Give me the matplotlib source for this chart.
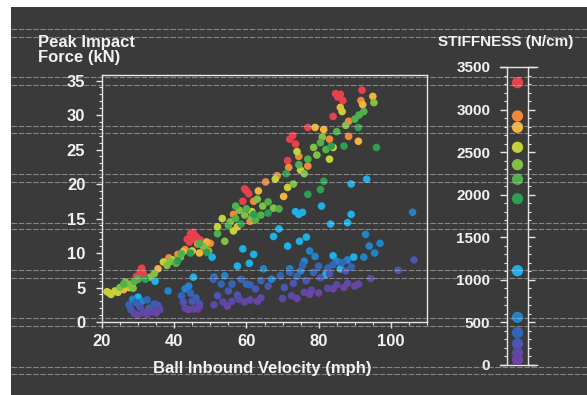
import numpy as np
import matplotlib
import matplotlib.pyplot as plt
from matplotlib.patches import Rectangle
from matplotlib.lines import Line2D
from matplotlib.ticker import MultipleLocator

plt.rcParams['font.family'] = ['Liberation Sans', 'DejaVu Sans']
plt.rcParams['font.weight'] = 'bold'

# stiffness groups (N/cm) and their colours
stiffness = [3316, 2925, 2792, 2557, 2353, 2181, 1953, 1108, 560, 380, 250, 140, 60]
colors = ['#e8414e', '#f0883a', '#f4b43a', '#c6d13a', '#80c043', '#4fb14a', '#2e9e52',
          '#1eb0e6', '#2383c9', '#3264b8', '#4a56b0', '#5a4aa8', '#6a44a0']

# ball inbound velocity (mph) / peak impact force (kN) for each group
pts_3316 = [(30.6, 7.3), (31.0, 7.8), (31.4, 7.0), (29.5, 6.6), (43.6, 12.0), (44.5, 12.8), (45.2, 13.0),
            (46.0, 12.4), (46.4, 12.1), (44.2, 11.6), (47.2, 11.9), (59.0, 17.5), (60.0, 19.0), (60.6, 18.6),
            (59.5, 19.3), (71.4, 23.4), (72.0, 26.5), (73.6, 25.8), (72.8, 27.0), (77.0, 28.2), (84.0, 29.8),
            (84.7, 33.1), (86.0, 33.0), (86.7, 32.1), (92.0, 33.6), (85.3, 32.6), (37.8, 8.8), (45.0, 12.0)]
pts_2925 = [(28.5, 5.6), (38.5, 9.3), (41.0, 9.8), (46.5, 11.3), (48.5, 10.8), (56.4, 15.6), (61.0, 14.6),
            (65.3, 20.3), (71.7, 22.4), (77.0, 22.6), (88.3, 29.1), (88.3, 26.9), (91.7, 32.1), (83.0, 26.5),
            (50.0, 11.4), (62.0, 17.5), (43.0, 10.5), (74.5, 24.0), (68.5, 21.2)]
pts_2792 = [(22.0, 4.2), (26.0, 4.7), (35.5, 7.7), (42.5, 10.2), (49.0, 11.6), (57.5, 13.8), (63.3, 19.0),
            (70.3, 18.2), (81.4, 27.9), (86.0, 31.1), (92.2, 31.5), (95.0, 32.7), (79.0, 28.2), (91.0, 26.2),
            (47.0, 10.0)]
pts_2557 = [(21.4, 4.4), (22.5, 4.0), (23.6, 4.5), (24.4, 4.3), (27.5, 5.0), (37.0, 8.7), (39.5, 9.0),
            (45.0, 10.3), (53.3, 15.0), (56.4, 13.2), (68.0, 20.7), (71.4, 19.5), (75.0, 22.0), (84.0, 25.3),
            (83.0, 23.6), (86.5, 30.5), (74.0, 24.7), (61.5, 16.0), (40.5, 8.6), (52.0, 13.8)]
pts_2353 = [(25.0, 5.0), (26.5, 5.8), (27.5, 5.4), (28.6, 4.9), (33.3, 6.5), (38.0, 8.2), (39.0, 8.8),
            (41.7, 9.4), (48.0, 11.0), (49.5, 10.3), (54.0, 11.7), (55.5, 14.5), (58.0, 16.2), (61.5, 15.1),
            (64.5, 16.8), (67.5, 16.5), (76.0, 21.5), (78.6, 25.3), (81.0, 26.8), (87.5, 28.5), (95.3, 31.8),
            (73.0, 20.0), (63.0, 17.8), (34.5, 7.0), (59.5, 15.5), (79.5, 24.2)]
pts_2181 = [(26.0, 5.5), (29.0, 5.9), (30.0, 6.2), (40.5, 8.5), (42.0, 9.9), (47.0, 11.4), (55.0, 14.0),
            (57.0, 15.0), (60.0, 16.4), (62.5, 14.8), (66.0, 17.4), (69.0, 16.4), (74.5, 22.8), (77.0, 23.6),
            (80.5, 26.0), (85.0, 27.6), (90.0, 29.4), (91.2, 30.0), (92.5, 30.5), (57.0, 16.8), (52.0, 12.8),
            (64.0, 15.5), (82.0, 25.0)]
pts_1953 = [(32.0, 6.2), (41.0, 8.9), (44.5, 10.0), (49.0, 10.1), (58.5, 14.2), (66.0, 15.8), (77.0, 18.5),
            (80.5, 19.2), (81.4, 20.4), (87.0, 25.5), (91.0, 28.2), (96.0, 25.3), (71.0, 21.5), (83.5, 25.5),
            (62.0, 15.6)]
pts_1108 = [(30.0, 3.6), (34.7, 5.9), (45.3, 6.5), (50.5, 9.4), (57.5, 8.1), (59.0, 10.6), (60.8, 8.5),
            (62.0, 9.8), (67.5, 12.4), (71.4, 11.0), (73.6, 16.0), (74.5, 15.6), (74.7, 11.7), (75.5, 15.9),
            (76.6, 12.3), (80.8, 16.8), (83.3, 14.2), (84.0, 9.6), (86.0, 7.7), (88.0, 14.4), (89.0, 15.6),
            (89.7, 9.4), (89.0, 20.0), (93.3, 20.7), (82.0, 6.9), (69.0, 13.5)]
pts_560 = [(28.5, 3.3), (31.0, 3.0), (38.3, 4.5), (43.0, 4.8), (44.0, 5.2), (51.0, 6.5), (54.0, 6.7),
           (64.7, 7.7), (67.0, 6.2), (72.0, 7.7), (75.0, 7.4), (76.0, 8.8), (77.5, 10.3), (79.0, 9.5),
           (85.0, 8.8), (88.0, 9.0), (93.0, 12.7), (94.0, 11.0), (95.5, 10.0), (97.0, 11.4), (106.0, 15.9),
           (92.5, 9.4)]
pts_380 = [(27.5, 2.5), (29.5, 2.8), (32.5, 3.2), (34.5, 2.6), (42.0, 3.8), (44.5, 4.2), (46.0, 3.5),
           (50.8, 6.2), (53.0, 5.5), (56.0, 5.5), (58.5, 6.2), (60.0, 5.5), (61.0, 5.4), (64.0, 6.0),
           (69.4, 6.7), (72.0, 7.2), (74.0, 6.6), (78.6, 7.2), (80.0, 8.1), (82.5, 7.8), (84.0, 8.3),
           (86.5, 8.6), (89.0, 8.0), (75.5, 8.2)]
pts_250 = [(28.0, 1.8), (30.5, 2.2), (33.0, 2.0), (35.5, 2.4), (42.5, 2.9), (45.0, 3.0), (47.0, 2.6),
           (52.0, 3.8), (55.0, 4.5), (57.5, 3.9), (62.5, 4.8), (66.0, 5.2), (70.5, 5.0), (73.0, 5.6),
           (76.5, 6.0), (80.5, 6.4), (83.0, 7.0), (87.5, 7.4), (102.0, 7.5), (106.4, 9.0)]
pts_140 = [(29.0, 1.2), (31.5, 1.4), (34.0, 1.5), (36.0, 1.8), (43.0, 2.0), (45.5, 1.9), (47.0, 2.2),
           (51.0, 2.5), (53.5, 2.9), (56.0, 3.0), (58.0, 3.3), (61.0, 3.2), (64.0, 3.5), (70.0, 3.4),
           (72.5, 3.8), (76.0, 4.3), (78.0, 4.6), (82.5, 4.9), (85.0, 5.4), (88.0, 5.6), (91.0, 5.5),
           (94.4, 6.3)]
pts_60 = [(30.0, 1.0), (32.5, 1.1), (35.0, 1.3), (44.0, 1.8), (46.5, 1.9), (54.7, 2.3), (59.5, 2.9),
          (63.0, 3.0), (74.0, 3.4), (77.5, 4.0), (80.0, 4.2), (84.0, 4.8), (87.0, 5.0), (90.0, 5.2)]

groups = [pts_3316, pts_2925, pts_2792, pts_2557, pts_2353, pts_2181, pts_1953,
          pts_1108, pts_560, pts_380, pts_250, pts_140, pts_60]

W, H = 587, 395
txt = '#f2f2f2'
bg = '#3a3a3a'

fig = plt.figure(figsize=(W / 100, H / 100), dpi=100, facecolor='white')
fig.add_artist(Rectangle((11 / W, 0), 1, 1 - 7 / H, transform=fig.transFigure,
                         facecolor=bg, edgecolor='none', zorder=0))

# scan lines of the screen (pairs of faint dashed lines)
for yp in [29, 37, 77, 85, 126, 133, 174, 182, 223, 229, 270, 278, 318, 326, 367, 374]:
    fig.add_artist(Line2D([11 / W, 1], [1 - yp / H] * 2, transform=fig.transFigure,
                          color='#cfcfcf', lw=0.8, ls=(0, (5, 1.5)), alpha=0.5, zorder=0.5))

# main scatter
ax = fig.add_axes([102 / W, 1 - 322 / H, 325 / W, 247 / H])
ax.set_facecolor('none')
for pts, c in zip(groups, colors):
    v = [p[0] for p in pts]
    f = [p[1] for p in pts]
    ax.scatter(v, f, s=30, color=c, edgecolors='none', zorder=3)
ax.set_xlim(20, 110)
ax.set_ylim(0, 35.8)
ax.xaxis.set_minor_locator(MultipleLocator(5))
ax.yaxis.set_major_locator(MultipleLocator(5))
ax.yaxis.set_minor_locator(MultipleLocator(1))
ax.set_xticks([20, 40, 60, 80, 100])
for s in ax.spines.values():
    s.set_color('#e6e6e6')
    s.set_linewidth(1.0)
ax.tick_params(which='major', colors='#e6e6e6', labelcolor=txt, labelsize=12, length=4, width=1)
ax.tick_params(which='minor', colors='#e6e6e6', length=2.5, width=0.8)
ax.tick_params(axis='y', which='major', pad=8)
ax.tick_params(axis='x', which='major', pad=5)

fig.text(38 / W, 1 - 35 / H, 'Peak Impact\nForce (kN)', color=txt, fontsize=12,
         fontweight='bold', ha='left', va='top', linespacing=0.98)
fig.text(262 / W, 1 - 369 / H, 'Ball Inbound Velocity (mph)', color=txt, fontsize=12,
         fontweight='bold', ha='center', va='center')

# stiffness key
cax = fig.add_axes([507 / W, 1 - 365 / H, 21 / W, 298 / H])
cax.set_facecolor('none')
cax.scatter([0.5] * len(stiffness), stiffness, s=66, c=colors, edgecolors='none', zorder=3)
cax.set_xlim(0, 1)
cax.set_ylim(0, 3500)
cax.set_xticks([])
cax.yaxis.set_major_locator(MultipleLocator(500))
cax.yaxis.set_minor_locator(MultipleLocator(100))
cax.spines['top'].set_visible(False)
cax.spines['bottom'].set_visible(False)
for side in ['left', 'right']:
    cax.spines[side].set_color('#e6e6e6')
    cax.spines[side].set_linewidth(1.0)
for yv in [0, 3500]:
    cax.plot([-0.35, 1.45], [yv, yv], color='#e6e6e6', lw=1.0, clip_on=False)
cax.tick_params(axis='y', which='both', left=True, right=True, direction='out', colors='#e6e6e6')
cax.tick_params(axis='y', which='major', length=5, width=1, labelcolor=txt, labelsize=11, pad=7)
cax.tick_params(axis='y', which='minor', length=2.5, width=0.8)
fig.text(506 / W, 1 - 42 / H, 'STIFFNESS (N/cm)', color=txt, fontsize=11,
         fontweight='bold', ha='center', va='center')

fig.savefig('out.png', dpi=100, facecolor='white')
